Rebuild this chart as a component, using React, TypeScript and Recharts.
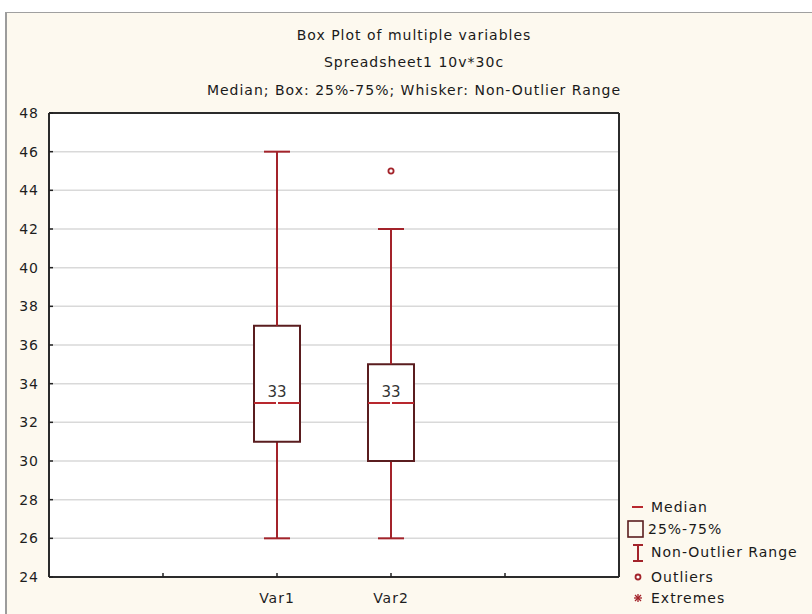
import React from 'react';
import { ComposedChart, Bar, Scatter, XAxis, YAxis, CartesianGrid } from 'recharts';

const categories = ['slot0', 'Var1', 'Var2', 'slot3'];
const minimums = [null, 26, 26, null];
const lowerQuartiles = [null, 31, 30, null];
const medians = [null, 33, 33, null];
const upperQuartiles = [null, 37, 35, null];
const maximums = [null, 46, 42, null];
const outliers = [null, null, 45, null];
const yTicks = [24, 26, 28, 30, 32, 34, 36, 38, 40, 42, 44, 46, 48];
const titleLines = [
  'Box Plot of multiple variables',
  'Spreadsheet1 10v*30c',
  'Median; Box: 25%-75%; Whisker: Non-Outlier Range',
];
const legendLabels = ['Median', '25%-75%', 'Non-Outlier Range', 'Outliers', 'Extremes'];

const WHISKER = '#a3232a';
const BOX = '#5a1d1f';
const MEDIAN = '#b8282e';
const FONT = 'DejaVu Sans';

const data = categories.map((name, i) => {
  const mn = minimums[i];
  if (mn == null) return { name, outlier: outliers[i] ?? undefined };
  return {
    name,
    base: mn,
    lowWhisker: (lowerQuartiles[i] as number) - mn,
    lowBox: (medians[i] as number) - (lowerQuartiles[i] as number),
    highBox: (upperQuartiles[i] as number) - (medians[i] as number),
    highWhisker: (maximums[i] as number) - (upperQuartiles[i] as number),
    median: medians[i],
    outlier: outliers[i] ?? undefined,
  };
});

const valid = (p: any) => p && p.payload && p.payload.median != null && isFinite(p.y) && isFinite(p.height);

const LowWhiskerShape = (p: any) => {
  if (!valid(p)) return <g />;
  const cx = p.x + p.width / 2;
  const yb = p.y + p.height;
  return (
    <g>
      <line x1={cx} x2={cx} y1={p.y} y2={yb} stroke={WHISKER} strokeWidth={2} />
      <line x1={cx - 13} x2={cx + 13} y1={yb} y2={yb} stroke={WHISKER} strokeWidth={2} />
    </g>
  );
};

const HighWhiskerShape = (p: any) => {
  if (!valid(p)) return <g />;
  const cx = p.x + p.width / 2;
  return (
    <g>
      <line x1={cx} x2={cx} y1={p.y} y2={p.y + p.height} stroke={WHISKER} strokeWidth={2} />
      <line x1={cx - 13} x2={cx + 13} y1={p.y} y2={p.y} stroke={WHISKER} strokeWidth={2} />
    </g>
  );
};

const LowBoxShape = (p: any) => {
  if (!valid(p)) return <g />;
  const { x, y, width, height } = p;
  return (
    <g>
      <rect x={x} y={y} width={width} height={height} fill="#fff" />
      <path d={`M${x},${y} L${x},${y + height} L${x + width},${y + height} L${x + width},${y}`} fill="none" stroke={BOX} strokeWidth={2} />
    </g>
  );
};

const HighBoxShape = (p: any) => {
  if (!valid(p)) return <g />;
  const { x, y, width, height } = p;
  const cx = x + width / 2;
  const my = y + height;
  return (
    <g>
      <rect x={x} y={y} width={width} height={height} fill="#fff" />
      <path d={`M${x},${my} L${x},${y} L${x + width},${y} L${x + width},${my}`} fill="none" stroke={BOX} strokeWidth={2} />
      <line x1={x} x2={cx - 1} y1={my} y2={my} stroke={MEDIAN} strokeWidth={2} />
      <line x1={cx + 1} x2={x + width} y1={my} y2={my} stroke={MEDIAN} strokeWidth={2} />
      <text x={cx} y={my - 6} textAnchor="middle" fontFamily={FONT} fontSize={15} fill="#333">
        {p.payload.median}
      </text>
    </g>
  );
};

const OutlierShape = (p: any) => {
  if (p.cx == null || p.cy == null || !isFinite(p.cy)) return <g />;
  return <circle cx={p.cx} cy={p.cy} r={2.6} fill="#fff" stroke={WHISKER} strokeWidth={1.8} />;
};

const tickStyle = { fontSize: 14, fill: '#1e1e1e', fontFamily: FONT, letterSpacing: 1 };

const Legend = () => {
  const ys = [507, 529, 552, 577, 598];
  return (
    <svg width={200} height={130} style={{ position: 'absolute', left: 612, top: 484 }} viewBox="612 484 200 130">
      <line x1={632} x2={643} y1={ys[0]} y2={ys[0]} stroke={MEDIAN} strokeWidth={2} />
      <rect x={628} y={521} width={15} height={16} fill="none" stroke={BOX} strokeWidth={1.6} />
      <line x1={638} x2={638} y1={545} y2={561} stroke={WHISKER} strokeWidth={2} />
      <line x1={633} x2={643} y1={545} y2={545} stroke={WHISKER} strokeWidth={2} />
      <line x1={633} x2={643} y1={561} y2={561} stroke={WHISKER} strokeWidth={2} />
      <circle cx={638} cy={ys[3]} r={2.5} fill="#fff" stroke={WHISKER} strokeWidth={1.8} />
      <g stroke={WHISKER} strokeWidth={1.3}>
        <line x1={634} x2={642} y1={ys[4]} y2={ys[4]} />
        <line x1={638} x2={638} y1={ys[4] - 4} y2={ys[4] + 4} />
        <line x1={635} x2={641} y1={ys[4] - 3} y2={ys[4] + 3} />
        <line x1={635} x2={641} y1={ys[4] + 3} y2={ys[4] - 3} />
      </g>
      {legendLabels.map((l, i) => (
        <text key={l} x={i === 1 ? 648 : 651} y={ys[i]} dominantBaseline="central" fontFamily={FONT} fontSize={14} letterSpacing={1} fill="#1a1a1a">
          {l}
        </text>
      ))}
    </svg>
  );
};

export default function App() {
  return (
    <div style={{ position: 'absolute', left: 0, top: 0, width: 812, height: 614, background: '#fff', overflow: 'hidden' }}>
      <div
        style={{
          position: 'absolute', left: 5, top: 12, width: 830, height: 630,
          background: '#fdf9ef', borderLeft: '2px solid #9c9c9c', borderTop: '1px solid #a0a0a0',
        }}
      />
      {titleLines.map((t, i) => (
        <div
          key={t}
          style={{
            position: 'absolute', left: 0, width: 828, top: [27, 54, 82][i], lineHeight: '16px',
            textAlign: 'center', fontFamily: FONT, fontSize: 14, letterSpacing: 1, color: '#1a1a1a',
          }}
        >
          {t}
        </div>
      ))}
      <div style={{ position: 'absolute', left: 0, top: 0 }}>
        <ComposedChart width={812} height={614} data={data} margin={{ top: 113, right: 193, bottom: 7, left: 9 }}>
          <CartesianGrid vertical={false} stroke="#d9d9d9" strokeWidth={1.5} fill="#ffffff" fillOpacity={1} />
          <XAxis
            dataKey="name"
            type="category"
            padding={{ left: 57, right: 57 }}
            height={30}
            tickSize={-4}
            tickMargin={20}
            tickLine={{ stroke: '#222', strokeWidth: 1.5 }}
            axisLine={{ stroke: '#2b2b2b', strokeWidth: 2 }}
            tick={tickStyle}
            tickFormatter={(v: string) => (v.startsWith('slot') ? '' : v)}
            interval={0}
          />
          <XAxis
            xAxisId="top"
            dataKey="name"
            type="category"
            orientation="top"
            padding={{ left: 57, right: 57 }}
            height={1}
            mirror
            tick={false}
            tickLine={false}
            axisLine={{ stroke: '#2b2b2b', strokeWidth: 2 }}
          />
          <YAxis
            type="number"
            domain={[24, 48]}
            ticks={yTicks}
            allowDataOverflow
            width={40}
            tickSize={-4}
            tickMargin={14}
            tickLine={{ stroke: '#222', strokeWidth: 1.5 }}
            axisLine={{ stroke: '#2b2b2b', strokeWidth: 2 }}
            tick={tickStyle}
            interval={0}
          />
          <YAxis
            yAxisId="right"
            orientation="right"
            type="number"
            domain={[24, 48]}
            ticks={yTicks}
            allowDataOverflow
            width={1}
            mirror
            tickSize={4}
            tick={false}
            tickLine={{ stroke: '#222', strokeWidth: 1.5 }}
            axisLine={{ stroke: '#2b2b2b', strokeWidth: 2 }}
          />
          <Bar dataKey="base" stackId="box" barSize={46} fill="none" shape={() => <g />} isAnimationActive={false} />
          <Bar dataKey="lowWhisker" stackId="box" barSize={46} shape={LowWhiskerShape} isAnimationActive={false} />
          <Bar dataKey="lowBox" stackId="box" barSize={46} shape={LowBoxShape} isAnimationActive={false} />
          <Bar dataKey="highBox" stackId="box" barSize={46} shape={HighBoxShape} isAnimationActive={false} />
          <Bar dataKey="highWhisker" stackId="box" barSize={46} shape={HighWhiskerShape} isAnimationActive={false} />
          <Scatter dataKey="outlier" shape={OutlierShape} isAnimationActive={false} />
        </ComposedChart>
      </div>
      <Legend />
    </div>
  );
}
